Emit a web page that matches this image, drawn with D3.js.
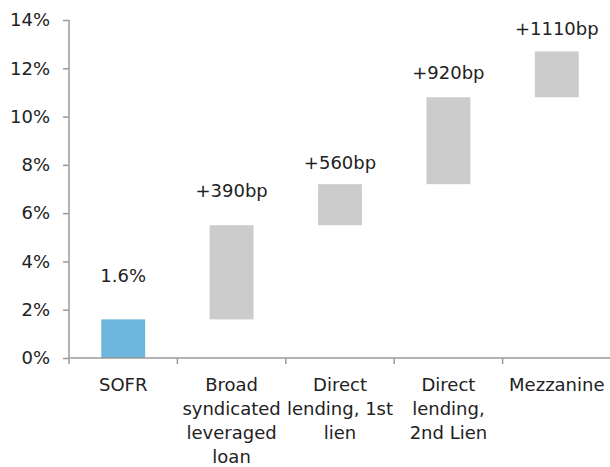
<!DOCTYPE html>
<html>
<head>
<meta charset="utf-8">
<script src="https://cdn.jsdelivr.net/npm/d3@7"></script>
<style>
  html, body { margin: 0; padding: 0; background: #fff; }
  svg text { font-family: "DejaVu Sans", sans-serif; fill: #222; }
</style>
</head>
<body>
<svg id="chart" width="610" height="467"></svg>
<script>
// ---- data ----
const categories = [
  ["SOFR"],
  ["Broad", "syndicated", "leveraged", "loan"],
  ["Direct", "lending, 1st", "lien"],
  ["Direct", "lending,", "2nd Lien"],
  ["Mezzanine"]
];
const sofrRate = 1.6;                 // %
const spreadsBp = [390, 560, 920, 1110]; // bp over SOFR
const valueLabels = ["1.6%", "+390bp", "+560bp", "+920bp", "+1110bp"];
const yTicks = [0, 2, 4, 6, 8, 10, 12, 14];

// ---- build floating bars ----
const tops = [sofrRate].concat(spreadsBp.map(b => sofrRate + b / 100));
const bars = tops.map((t, i) => ({
  i, base: i === 0 ? 0 : tops[i - 1], top: t, label: valueLabels[i], first: i === 0
}));

// ---- layout ----
const svg = d3.select("#chart");
const plotL = 69, plotR = 611, plotT = 20, plotB = 358;
const x = d3.scaleBand().domain(d3.range(categories.length)).range([plotL, plotR]).padding(0);
const y = d3.scaleLinear().domain([0, 14]).range([plotB, plotT]);
const barW = x.bandwidth() * 0.405;
const labelGap = [44, 35, 22, 25, 23];
const axisColor = "#9a9a9a";

// bars
svg.append("g").selectAll("rect").data(bars).join("rect")
  .attr("x", d => x(d.i) + x.bandwidth() / 2 - barW / 2)
  .attr("width", barW)
  .attr("y", d => y(d.top))
  .attr("height", d => y(d.base) - y(d.top))
  .attr("fill", d => d.first ? "#6db6de" : "#cccccc");

// value labels
svg.append("g").selectAll("text").data(bars).join("text")
  .attr("x", d => x(d.i) + x.bandwidth() / 2)
  .attr("y", d => y(d.top) - labelGap[d.i])
  .attr("text-anchor", "middle")
  .attr("dominant-baseline", "central")
  .style("font-size", "18px")
  .text(d => d.label);

// y axis
const yAxis = svg.append("g").attr("transform", `translate(${plotL},0)`)
  .call(d3.axisLeft(y).tickValues(yTicks).tickSize(6).tickPadding(13).tickFormat(d => d + "%"));
yAxis.select(".domain").attr("stroke", axisColor).attr("stroke-width", 1.5).attr("d", `M0,${plotT}V${plotB}`);
yAxis.selectAll(".tick line").attr("stroke", axisColor).attr("stroke-width", 1.5);
yAxis.selectAll(".tick text").style("font-size", "18px").attr("fill", "#222")
  .style("font-family", "DejaVu Sans, sans-serif");

// x axis
const xg = svg.append("g").attr("transform", `translate(0,${plotB})`);
xg.append("line").attr("x1", plotL).attr("x2", 610).attr("y1", 0).attr("y2", 0)
  .attr("stroke", axisColor).attr("stroke-width", 1.5);
const bounds = d3.range(categories.length).map(i => x(i));
xg.selectAll("line.tk").data(bounds).join("line").attr("class", "tk")
  .attr("x1", d => d).attr("x2", d => d).attr("y1", 0).attr("y2", 6)
  .attr("stroke", axisColor).attr("stroke-width", 1.5);

// category labels
const cat = svg.append("g").selectAll("text").data(categories).join("text")
  .attr("x", (d, i) => x(i) + x.bandwidth() / 2)
  .attr("y", 391)
  .attr("text-anchor", "middle")
  .style("font-size", "18px");
cat.selectAll("tspan").data(d => d).join("tspan")
  .attr("x", function () { return this.parentNode.getAttribute("x"); })
  .attr("dy", (d, j) => j === 0 ? 0 : 24)
  .text(d => d);
</script>
</body>
</html>
